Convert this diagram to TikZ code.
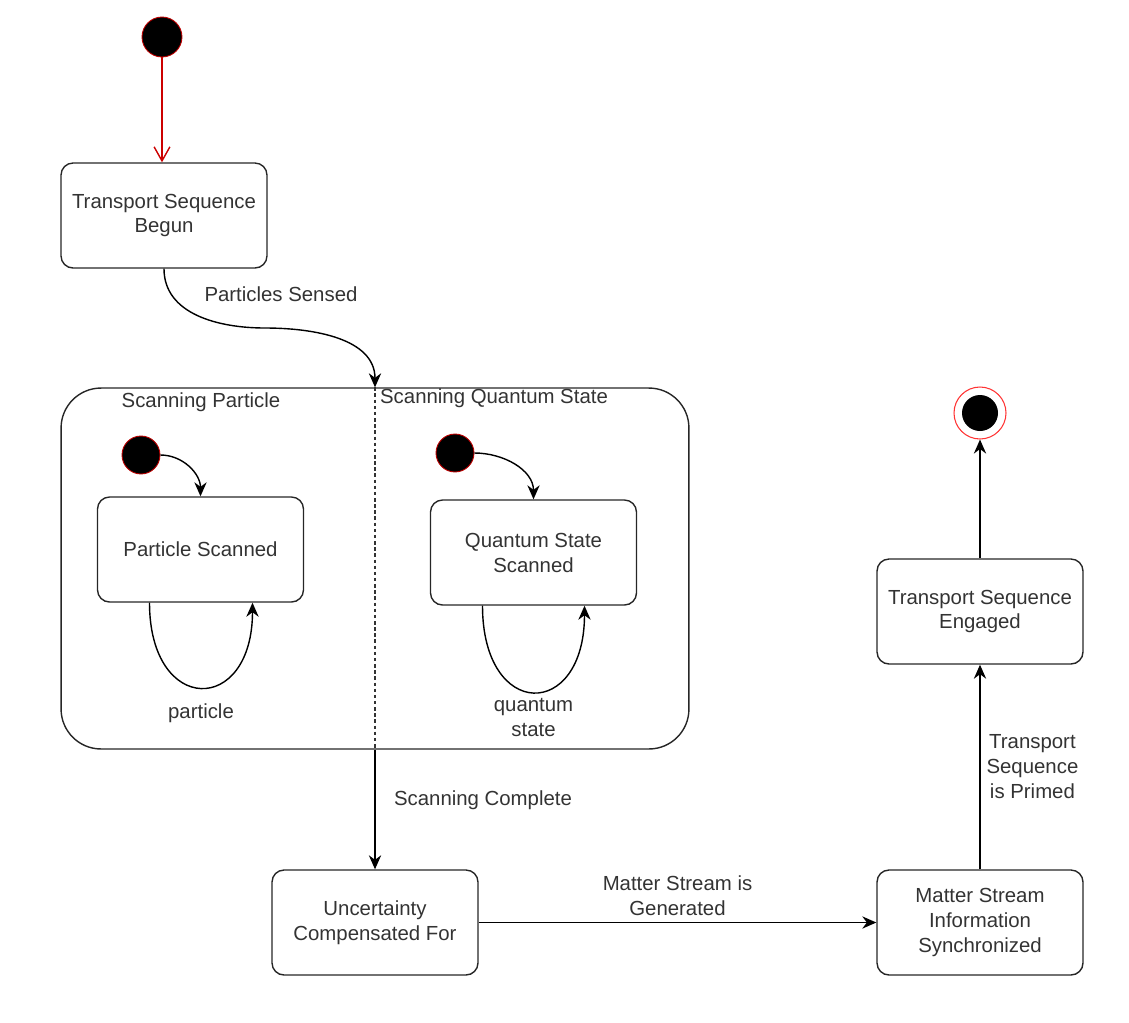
\documentclass[tikz,border=0pt]{standalone}
\usepackage{fontspec}
\setmainfont{Liberation Sans}
\usetikzlibrary{arrows.meta}
\usetikzlibrary{calc}
\usetikzlibrary{positioning}

\begin{document}
\begin{tikzpicture}[x=0.02cm, y=-0.02cm, line width=0.8pt,
    every node/.style={text=black!80, align=center, font=\fontsize{11.6}{14.2}\selectfont},
    state/.style={draw=black!85, line width=0.8pt, rounded corners=0.24cm, minimum width=4.12cm, minimum height=2.1cm},
    start/.style={circle, fill=black, draw=red!75!black, line width=0.5pt, inner sep=0pt},
    >={Stealth[length=8pt,width=7pt]}]
    \useasboundingbox (0,0) rectangle (1129,1022);

    \node (init) [start, minimum size=0.8cm] at (162,37) {};
    \node (begun) [state] at (164,215.5) {Transport Sequence\\Begun};
    \draw [red!80!black, -{Straight Barb[length=8pt,width=9pt]}] (init.south) -- (init |- begun.north);

    % composite state
    \node (scan) [state, minimum width=12.56cm, minimum height=7.22cm, rounded corners=0.8cm] at (375,568.5) {};
    \draw [black!80, dash pattern=on 2pt off 1.5pt] (scan.north) -- (scan.south);
    \coordinate (bend) at (265,328);
    \draw [->] (begun.south) to [out=-90, in=180] (bend) to [out=0, in=90] (scan.north);
    \node (lsensed) at (281,294) {Particles Sensed};

    \node (lpart) at (201,402) {Scanning Particle};
    \node (lquant) at (494,398) {Scanning Quantum State};

    \node (i1) [start, minimum size=0.76cm] at (141,455) {};
    \node (ps) [state] at (200.5,549.5) {Particle Scanned};
    \draw [->] (i1.east) to [out=0, in=90] (ps.north);

    \node (i2) [start, minimum size=0.76cm] at (455,453) {};
    \node (qs) [state] at (533.5,552.5) {Quantum State\\Scanned};
    \draw [->] (i2.east) to [out=0, in=90] (qs.north);

    \draw [->] ($(ps.south)+(-51,0)$) .. controls ($(ps.south)+(-51,113)$) and ($(ps.south)+(52,113)$) .. ($(ps.south)+(52,0)$) node [pos=0.5, below=0.2cm] {particle};
    \draw [->] ($(qs.south)+(-51,0)$) .. controls ($(qs.south)+(-51,115)$) and ($(qs.south)+(51,115)$) .. ($(qs.south)+(51,0)$) node [pos=0.5, below] {quantum\\state};

    % lower row
    \node (unc) [state] at (375,922.5) {Uncertainty\\Compensated For};
    \draw [->] (scan.south) -- node [pos=0.42, right=0.25cm] {Scanning Complete} (unc.north);

    \node (ms) [state] at (980,922.5) {Matter Stream\\Information\\Synchronized};
    \draw [->] (unc.east) -- node [midway, above] {Matter Stream is\\Generated} (ms.west);

    \node (eng) [state] at (980,611.5) {Transport Sequence\\Engaged};
    \draw [->] (ms.north) -- node [midway, right] {Transport\\Sequence\\is Primed} (eng.south);

    \node (fin) [circle, draw=red!80, line width=0.6pt, minimum size=1.04cm] at (980,413) {};
    \node (fin2) [circle, fill=black, minimum size=0.72cm] at (fin) {};
    \draw [->] (eng.north) -- (fin.south);
\end{tikzpicture}
\end{document}
